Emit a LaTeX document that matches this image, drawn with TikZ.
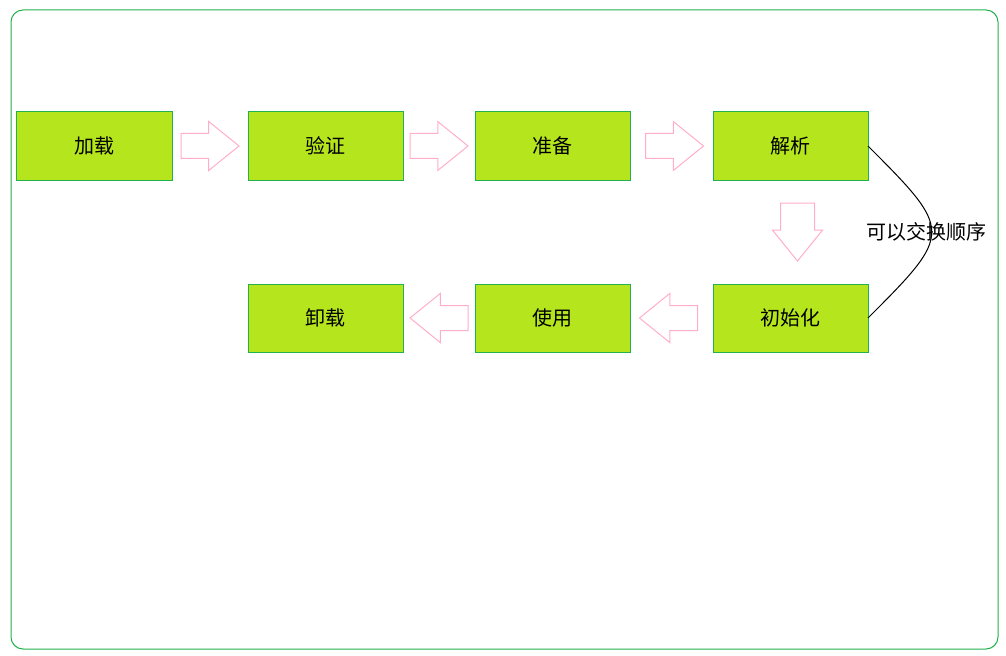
\documentclass[tikz,border=0pt]{standalone}
\usepackage{fontspec}
\setmainfont{Noto Sans CJK SC}
\usetikzlibrary{calc,positioning,shapes.arrows}
\definecolor{paintlime}{RGB}{181,230,29}
\definecolor{paintgreen}{RGB}{34,177,76}
\definecolor{paintpink}{RGB}{255,174,201}
\tikzstyle{stage}=[
	rectangle,
	draw=paintgreen,
	fill=paintlime,
	line width=1bp,
	minimum width=155bp,
	minimum height=68bp,
	inner sep=0,
	outer sep=0,
	font=\fontsize{20bp}{24bp}\selectfont]
\tikzstyle{hollow}=[
	single arrow,
	draw=paintpink,
	line width=1bp,
	minimum height=58bp,
	minimum width=48bp,
	inner sep=12bp,
	outer sep=0,
	single arrow head extend=12bp,
	single arrow tip angle=78,
	anchor=tail,
	xshift=-29bp]
\begin{document}
\begin{tikzpicture}[x=1bp,y=-1bp]
	\useasboundingbox (0,0) rectangle (1006,656);
	\draw[paintgreen,line width=1bp,rounded corners=12bp] (11,10) rectangle (998,649);
	\node[stage]	(jiazai)	at (94.5,146)	{加载};
	\node[stage]	(yanzheng)	[right=76bp of jiazai]	{验证};
	\node[stage]	(zhunbei)	[right=72bp of yanzheng]	{准备};
	\node[stage]	(jiexi)	[right=83bp of zhunbei]	{解析};
	\node[stage]	(chushihua)	[below=104bp of jiexi]	{初始化};
	\node[stage]	(shiyong)	[left=83bp of chushihua]	{使用};
	\node[stage]	(xiezai)	[left=72bp of shiyong]	{卸载};
	\node[hollow]	(a1)	at ($(jiazai.east)!.5!(yanzheng.west)$)	{};
	\node[hollow]	(a2)	at ($(yanzheng.east)!.5!(zhunbei.west)$)	{};
	\node[xshift=3bp,hollow]	(a3)	at ($(zhunbei.east)!.5!(jiexi.west)$)	{};
	\node[xshift=7bp,rotate=-90,hollow,inner sep=16.5bp,single arrow head extend=8bp]
		(a4)	at ($(jiexi.south)!.5!(chushihua.north)$)	{};
	\node[xshift=-3bp,rotate=180,hollow]	(a5)	at ($(chushihua.west)!.5!(shiyong.east)$)	{};
	\node[rotate=180,hollow]	(a6)	at ($(shiyong.west)!.5!(xiezai.east)$)	{};
	\draw[line width=1bp] (jiexi.east) .. controls +(85,85) and +(85,-85) .. (chushihua.east)
		node[midway,xshift=-5bp,font=\fontsize{20bp}{24bp}\selectfont] (swap) {可以交换顺序};
\end{tikzpicture}
\end{document}
